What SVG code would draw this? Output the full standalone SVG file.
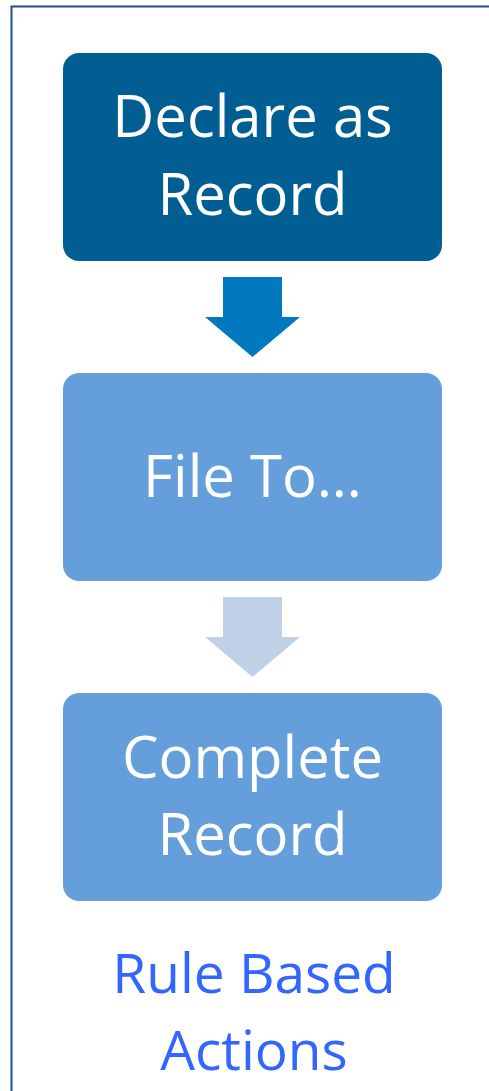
<svg xmlns="http://www.w3.org/2000/svg" width="489" height="1091" viewBox="0 0 489 1091">
<style>
.lbl{font-family:"Open Sans","Noto Sans",sans-serif;font-size:58px;fill:#ffffff;text-anchor:middle}
.cap{font-family:"Open Sans","Noto Sans",sans-serif;font-size:55px;fill:#3366ff;text-anchor:middle}
</style>
<rect x="0" y="0" width="489" height="1091" fill="#ffffff"/>
<rect x="11.5" y="6.5" width="500" height="1100" fill="none" stroke="#1f4e8c" stroke-width="2"/>
<g id="connectors">
<polygon points="223,277 282,277 282,317 300,317 252.5,357 205,317 223,317" fill="#0079bf"/>
<polygon points="223,597 282,597 282,637 300,637 252.5,677 205,637 223,637" fill="#c0d0e7"/>
</g>
<g id="declare">
<rect x="63" y="53" width="379" height="208" rx="16" fill="#005e92"/>
<text class="lbl" x="252.5" y="137">Declare as</text>
<text class="lbl" x="252.5" y="215">Record</text>
</g>
<g id="fileto">
<rect x="63" y="373" width="379" height="208" rx="16" fill="#649fdb"/>
<text class="lbl" x="252.5" y="497">File To…</text>
</g>
<g id="complete">
<rect x="63" y="693" width="379" height="208" rx="16" fill="#649fdb"/>
<text class="lbl" x="252.5" y="778">Complete</text>
<text class="lbl" x="252.5" y="855">Record</text>
</g>
<g id="caption">
<text class="cap" x="254" y="993">Rule Based</text>
<text class="cap" x="254" y="1070">Actions</text>
</g>
</svg>
